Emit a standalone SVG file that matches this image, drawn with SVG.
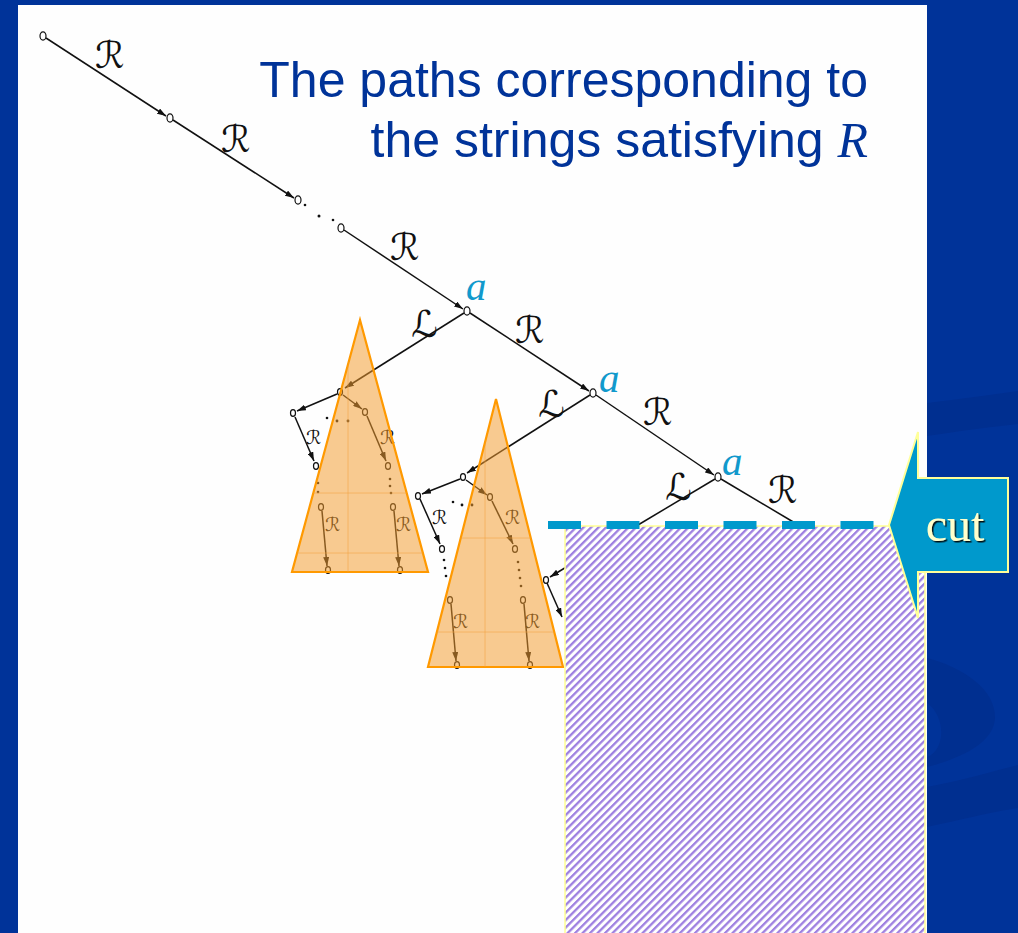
<svg xmlns="http://www.w3.org/2000/svg" width="1018" height="933" viewBox="0 0 1018 933">
<style>
.edge{stroke:#111;stroke-width:1.5;fill:none}
.node{fill:#fff;stroke:#111;stroke-width:1.2}
.lbl{font-family:"DejaVu Sans",sans-serif;fill:#111}
.big{font-size:37px}
.sm{font-size:19px}
.a{font-family:"Liberation Serif",serif;font-style:italic;font-size:41px;fill:#1199CC}
.title{font-family:"Liberation Sans",Arial,sans-serif;font-size:50px;fill:#003399}
.dot{fill:#111}
.tri{fill:#F29A2E;fill-opacity:0.53;stroke:#FF9900;stroke-width:2.2;stroke-linejoin:miter}
.grid{stroke:#F0A040;stroke-width:1;opacity:0.55}
.swoosh{fill:#002F90}
</style>
<defs>
<marker id="ah" viewBox="0 0 9 6" refX="9" refY="3" markerWidth="9" markerHeight="6" markerUnits="userSpaceOnUse" orient="auto">
<path d="M0,0 L9,3 L0,6 z" fill="#111"/>
</marker>
<pattern id="hatch" patternUnits="userSpaceOnUse" width="5.3" height="10" patternTransform="rotate(45)">
<rect x="0" y="0" width="5.3" height="10" fill="#fff"/>
<rect x="0" y="0" width="2.3" height="10" fill="#9E80E0"/>
</pattern>
<clipPath id="c1"><polygon points="360,320 292,572 428,572"/></clipPath>
<clipPath id="c2"><polygon points="496,399 428,667 563,667"/></clipPath>
<filter id="sh" x="-20%" y="-20%" width="140%" height="140%"><feDropShadow dx="1.5" dy="1.5" stdDeviation="0.6" flood-color="#000" flood-opacity="0.9"/></filter>
</defs>

<!-- background -->
<rect x="0" y="0" width="1018" height="933" fill="#003399"/>
<path class="swoosh" d="M927,403 C960,399 990,395 1018,391 L1018,424 C990,427 960,431 927,436 Z"/>
<path class="swoosh" d="M927,658 C965,668 995,690 995,717 C995,742 962,758 927,767 L927,757 C946,750 946,716 927,703 Z"/>
<path class="swoosh" d="M927,787 C960,781 990,772 1018,765 L1018,808 C990,812 960,820 927,827 Z"/>
<rect x="18" y="5" width="909" height="928" fill="#fefefe"/>

<!-- title -->
<g id="title">
<text class="title" x="868" y="97" text-anchor="end">The paths corresponding to</text>
<text class="title" x="868" y="157" text-anchor="end">the strings satisfying <tspan font-family="Liberation Serif,serif" font-style="italic">R</tspan></text>
</g>

<!-- connectors -->
<g id="connectors">
<line class="edge" x1="46" y1="38" x2="166" y2="116" marker-end="url(#ah)"/>
<line class="edge" x1="173" y1="120" x2="294" y2="198" marker-end="url(#ah)"/>
<line class="edge" x1="344" y1="230" x2="463" y2="309" marker-end="url(#ah)"/>
<line class="edge" x1="470" y1="313" x2="589" y2="391" marker-end="url(#ah)"/>
<line class="edge" x1="596" y1="395" x2="714" y2="475" marker-end="url(#ah)"/>
<line class="edge" x1="721" y1="479" x2="795" y2="523"/>
<line class="edge" x1="464" y1="313" x2="345" y2="388" marker-end="url(#ah)"/>
<line class="edge" x1="590" y1="395" x2="467" y2="473" marker-end="url(#ah)"/>
<line class="edge" x1="715" y1="479" x2="638" y2="525"/>
<!-- subtree 1 -->
<line class="edge" x1="337" y1="394" x2="297" y2="411" marker-end="url(#ah)"/>
<line class="edge" x1="295" y1="417" x2="314" y2="461" marker-end="url(#ah)"/>
<line class="edge" x1="322" y1="511" x2="327" y2="566" marker-end="url(#ah)"/>
<line class="edge" x1="343" y1="395" x2="362" y2="409" marker-end="url(#ah)"/>
<line class="edge" x1="367" y1="416" x2="386" y2="461" marker-end="url(#ah)"/>
<line class="edge" x1="394" y1="511" x2="399" y2="566" marker-end="url(#ah)"/>
<!-- subtree 2 -->
<line class="edge" x1="460" y1="479" x2="422" y2="494" marker-end="url(#ah)"/>
<line class="edge" x1="420" y1="499" x2="440" y2="544" marker-end="url(#ah)"/>
<line class="edge" x1="451" y1="604" x2="456" y2="661" marker-end="url(#ah)"/>
<line class="edge" x1="466" y1="480" x2="487" y2="495" marker-end="url(#ah)"/>
<line class="edge" x1="492" y1="501" x2="513" y2="544" marker-end="url(#ah)"/>
<line class="edge" x1="524" y1="604" x2="529" y2="661" marker-end="url(#ah)"/>
<!-- subtree 3 -->
<line class="edge" x1="568" y1="566" x2="550" y2="577" marker-end="url(#ah)"/>
<line class="edge" x1="547" y1="583" x2="562" y2="617" marker-end="url(#ah)"/>
</g>

<!-- dots -->
<g id="dots">
<circle class="dot" cx="305" cy="205" r="1.3"/>
<circle class="dot" cx="319" cy="216" r="1.5"/>
<circle class="dot" cx="333" cy="220" r="1.3"/>
<circle class="dot" cx="327" cy="418" r="1.3"/>
<circle class="dot" cx="337" cy="421" r="1.4"/>
<circle class="dot" cx="348" cy="421" r="1.4"/>
<circle class="dot" cx="318" cy="483" r="1.3"/>
<circle class="dot" cx="318" cy="492" r="1.3"/>
<circle class="dot" cx="390" cy="479" r="1.3"/>
<circle class="dot" cx="390" cy="486" r="1.3"/>
<circle class="dot" cx="391" cy="493" r="1.3"/>
<circle class="dot" cx="453" cy="502" r="1.3"/>
<circle class="dot" cx="462" cy="505" r="1.4"/>
<circle class="dot" cx="472" cy="505" r="1.4"/>
<circle class="dot" cx="444" cy="560" r="1.3"/>
<circle class="dot" cx="445" cy="568" r="1.3"/>
<circle class="dot" cx="446" cy="576" r="1.3"/>
<circle class="dot" cx="518" cy="562" r="1.3"/>
<circle class="dot" cx="519" cy="570" r="1.3"/>
<circle class="dot" cx="520" cy="578" r="1.3"/>
<circle class="dot" cx="521" cy="586" r="1.3"/>
</g>

<!-- nodes -->
<g id="n0"><ellipse class="node" cx="43" cy="36" rx="3" ry="4.2"/></g>
<g id="n1"><ellipse class="node" cx="170" cy="118" rx="3" ry="4.2"/></g>
<g id="n2"><ellipse class="node" cx="298" cy="200" rx="3" ry="4.2"/></g>
<g id="n3"><ellipse class="node" cx="341" cy="228" rx="3" ry="4.2"/></g>
<g id="a1"><ellipse class="node" cx="467" cy="311" rx="3" ry="4.2"/><text class="a" x="466" y="300">a</text></g>
<g id="a2"><ellipse class="node" cx="593" cy="393" rx="3" ry="4.2"/><text class="a" x="599" y="392">a</text></g>
<g id="a3"><ellipse class="node" cx="718" cy="477" rx="3" ry="4.2"/><text class="a" x="722" y="475">a</text></g>
<g id="t1">
<ellipse class="node" cx="340" cy="392" rx="2.5" ry="3.3"/>
<ellipse class="node" cx="293" cy="413" rx="2.5" ry="3.3"/>
<ellipse class="node" cx="316" cy="466" rx="2.5" ry="3.3"/>
<ellipse class="node" cx="321" cy="507" rx="2.5" ry="3.3"/>
<ellipse class="node" cx="328" cy="570" rx="2.5" ry="3.3"/>
<ellipse class="node" cx="365" cy="412" rx="2.5" ry="3.3"/>
<ellipse class="node" cx="388" cy="466" rx="2.5" ry="3.3"/>
<ellipse class="node" cx="393" cy="507" rx="2.5" ry="3.3"/>
<ellipse class="node" cx="400" cy="570" rx="2.5" ry="3.3"/>
</g>
<g id="t2">
<ellipse class="node" cx="463" cy="477" rx="2.5" ry="3.3"/>
<ellipse class="node" cx="418" cy="496" rx="2.5" ry="3.3"/>
<ellipse class="node" cx="442" cy="549" rx="2.5" ry="3.3"/>
<ellipse class="node" cx="450" cy="600" rx="2.5" ry="3.3"/>
<ellipse class="node" cx="457" cy="665" rx="2.5" ry="3.3"/>
<ellipse class="node" cx="490" cy="497" rx="2.5" ry="3.3"/>
<ellipse class="node" cx="515" cy="549" rx="2.5" ry="3.3"/>
<ellipse class="node" cx="523" cy="600" rx="2.5" ry="3.3"/>
<ellipse class="node" cx="530" cy="665" rx="2.5" ry="3.3"/>
</g>
<g id="t3"><ellipse class="node" cx="546" cy="580" rx="2.5" ry="3.3"/></g>

<!-- edge labels -->
<g id="labels">
<text class="lbl big" x="95" y="68">ℛ</text>
<text class="lbl big" x="221" y="152">ℛ</text>
<text class="lbl big" x="390" y="260">ℛ</text>
<text class="lbl big" x="515" y="343">ℛ</text>
<text class="lbl big" x="643" y="425">ℛ</text>
<text class="lbl big" x="768" y="503">ℛ</text>
<text class="lbl big" x="411" y="337">ℒ</text>
<text class="lbl big" x="538" y="417">ℒ</text>
<text class="lbl big" x="665" y="500">ℒ</text>
<text class="lbl sm" x="306" y="444">ℛ</text>
<text class="lbl sm" x="325" y="531">ℛ</text>
<text class="lbl sm" x="380" y="444">ℛ</text>
<text class="lbl sm" x="396" y="531">ℛ</text>
<text class="lbl sm" x="432" y="524">ℛ</text>
<text class="lbl sm" x="453" y="628">ℛ</text>
<text class="lbl sm" x="505" y="524">ℛ</text>
<text class="lbl sm" x="525" y="628">ℛ</text>
</g>

<!-- triangles -->
<g id="triangle1">
<polygon class="tri" points="360,320 292,572 428,572"/>
<g clip-path="url(#c1)"><line class="grid" x1="280" y1="493" x2="440" y2="493"/><line class="grid" x1="280" y1="553" x2="440" y2="553"/><line class="grid" x1="348" y1="320" x2="348" y2="572"/></g>
</g>
<g id="triangle2">
<polygon class="tri" points="496,399 428,667 563,667"/>
<g clip-path="url(#c2)"><line class="grid" x1="420" y1="538" x2="570" y2="538"/><line class="grid" x1="420" y1="632" x2="570" y2="632"/><line class="grid" x1="485" y1="399" x2="485" y2="667"/></g>
</g>

<!-- hatched region -->
<g id="cut-region">
<rect x="565" y="526" width="360" height="412" fill="url(#hatch)" stroke="#FFFF99" stroke-width="1.6"/>
</g>

<!-- cut line -->
<g id="cut-line">
<line x1="548" y1="525" x2="890" y2="525" stroke="#0099CC" stroke-width="8" stroke-dasharray="33,25.5"/>
</g>

<!-- cut arrow -->
<g id="cut-arrow">
<path d="M889,525 L918,432 L918,478 L1008,478 L1008,572 L918,572 L918,618 Z" fill="#0099CC" stroke="#FFFF99" stroke-width="2" stroke-linejoin="miter"/>
<text x="955" y="541" text-anchor="middle" font-family="Liberation Serif,serif" font-size="48" fill="#FFFFCC" filter="url(#sh)">cut</text>
</g>
</svg>
